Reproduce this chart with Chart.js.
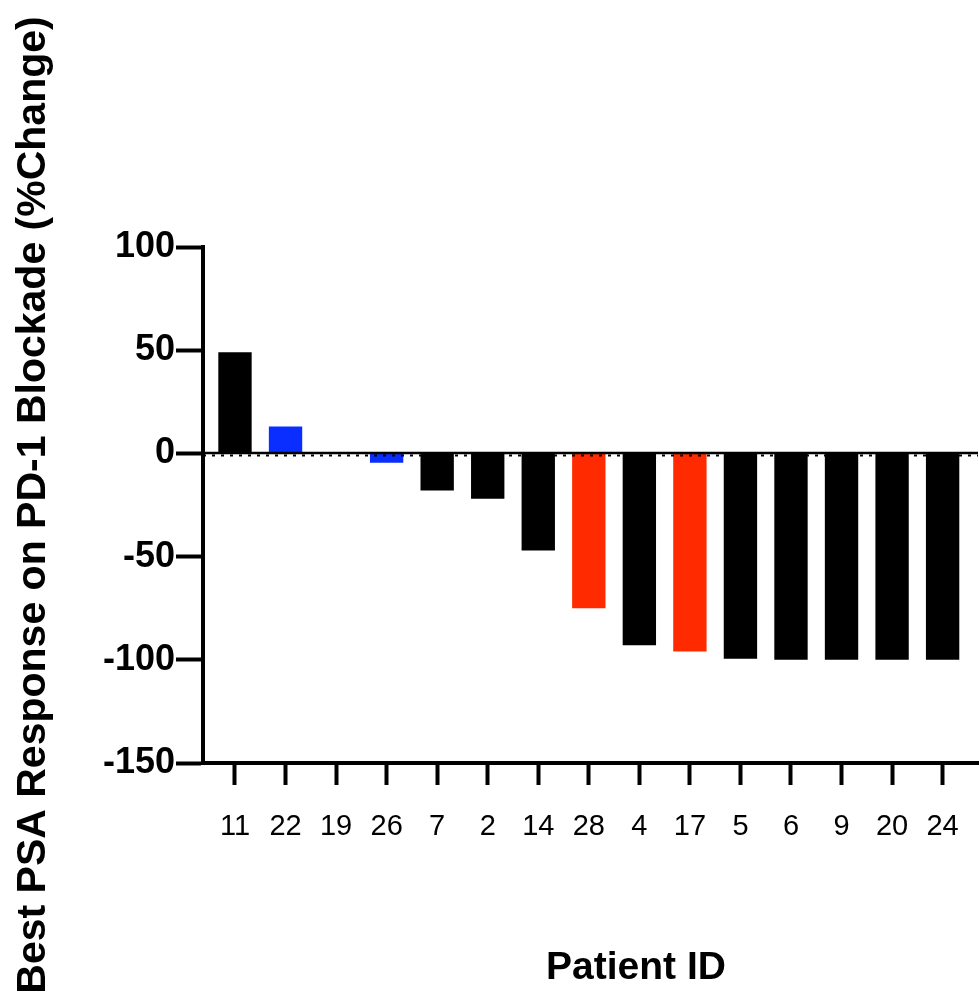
<!DOCTYPE html>
<html>
<head>
<meta charset="utf-8">
<script src="https://cdn.jsdelivr.net/npm/chart.js@4.4.1/dist/chart.umd.min.js"></script>
<style>
  html, body { margin: 0; padding: 0; background: #fff; }
  #wrap { width: 979px; height: 1001px; }
</style>
</head>
<body>
<div id="wrap"><canvas id="psaChart" width="979" height="1001"></canvas></div>
<script>
// patient ids, in waterfall order
const patientIds = ['11', '22', '19', '26', '7', '2', '14', '28', '4', '17', '5', '6', '9', '20', '24'];
// best PSA change (%)
const psaChange = [49, 13, 0, -4.5, -18, -22, -47, -75, -93, -96, -99.5, -100, -100, -100, -100];
// group of each patient: 0 = black, 1 = blue, 2 = red
const groupOf = [0, 1, 0, 1, 0, 0, 0, 2, 0, 2, 0, 0, 0, 0, 0];
const groupColors = ['#000000', '#0A2EFF', '#FF2A00'];
const yTicks = [100, 50, 0, -50, -100, -150];

const FONT = 'Liberation Sans, Arial, sans-serif';

// dotted reference line at 0 + x title placed like the original
const extras = {
    id: 'extras',
    afterDatasetsDraw(chart) {
        const y = chart.scales.y.getPixelForValue(0);
        const area = chart.chartArea;
        const c = chart.ctx;
        c.save();
        c.strokeStyle = '#000';
        c.lineWidth = 2.5;
        c.beginPath();
        c.moveTo(area.left, y - 0.5);
        c.lineTo(area.right, y - 0.5);
        c.stroke();
        c.setLineDash([3, 6]);
        c.lineWidth = 2;
        c.beginPath();
        c.moveTo(area.left, y + 2);
        c.lineTo(area.right, y + 2);
        c.stroke();
        c.restore();
    },
    afterDraw(chart) {
        const c = chart.ctx;
        c.save();
        c.fillStyle = '#000';
        c.font = 'bold 39px ' + FONT;
        c.textAlign = 'center';
        c.textBaseline = 'middle';
        c.fillText('Patient ID', 636, 968);
        c.restore();
    }
};

const ctx = document.getElementById('psaChart').getContext('2d');
new Chart(ctx, {
    type: 'bar',
    data: {
        datasets: [{
            data: psaChange.map((v, i) => ({ x: i, y: v })),
            backgroundColor: groupOf.map(g => groupColors[g]),
            borderWidth: 0,
            barPercentage: 0.66,
            categoryPercentage: 1.0
        }]
    },
    options: {
        responsive: false,
        animation: false,
        layout: { padding: { top: 247, right: 1, left: 0, bottom: 0 } },
        plugins: { legend: { display: false }, tooltip: { enabled: false } },
        scales: {
            x: {
                type: 'linear',
                offset: false,
                min: -0.633,
                max: 14.7,
                afterFit(scale) {
                    scale.height = 238;
                    scale.paddingLeft = 0;
                    scale.paddingRight = 0;
                },
                afterBuildTicks(scale) { scale.ticks = patientIds.map((p, i) => ({ value: i })); },
                grid: {
                    offset: false,
                    drawOnChartArea: false,
                    tickLength: 22,
                    tickWidth: 4,
                    tickColor: '#000'
                },
                border: { display: true, color: '#000', width: 4 },
                ticks: {
                    color: '#000',
                    padding: 25,
                    maxRotation: 0,
                    autoSkip: false,
                    callback: (v) => patientIds[v],
                    font: { family: FONT, size: 29 }
                }
            },
            y: {
                min: -150,
                max: 100,
                afterFit(scale) { scale.width = 203; },
                afterBuildTicks(scale) { scale.ticks = yTicks.map(v => ({ value: v })); },
                grid: {
                    drawOnChartArea: false,
                    tickLength: 27,
                    tickWidth: 4,
                    tickColor: '#000'
                },
                border: { display: true, color: '#000', width: 4 },
                ticks: {
                    color: '#000',
                    padding: 1,
                    font: { family: FONT, size: 36, weight: 'bold' }
                },
                title: {
                    display: true,
                    text: 'Best PSA Response on PD-1 Blockade (%Change)',
                    color: '#000',
                    padding: { top: 9, bottom: 0 },
                    font: { family: FONT, size: 41, weight: 'bold' }
                }
            }
        }
    },
    plugins: [extras]
});
</script>
</body>
</html>
